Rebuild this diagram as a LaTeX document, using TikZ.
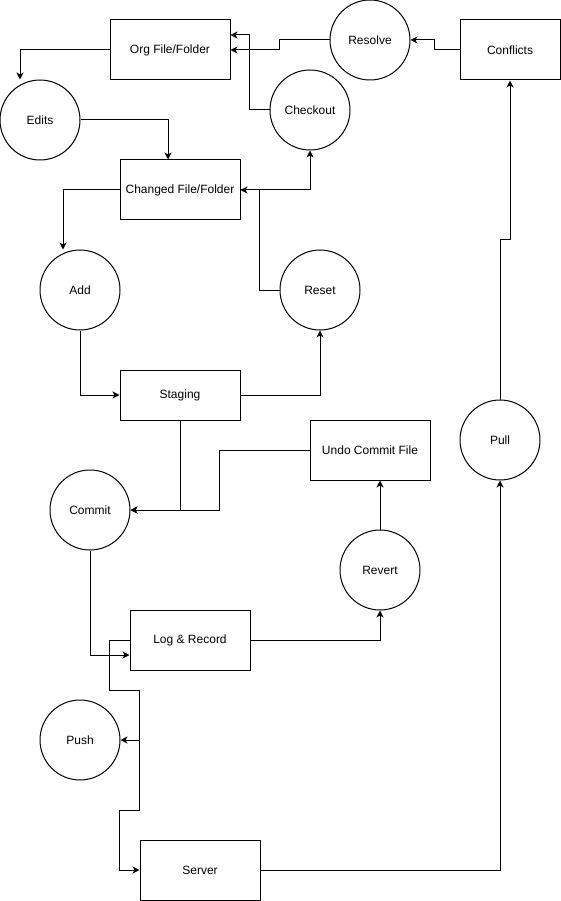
\documentclass[tikz,border=0pt]{standalone}
\usepackage{fontspec}
\setmainfont{Liberation Sans}
\usetikzlibrary{arrows.meta,calc}
\begin{document}
\begin{tikzpicture}[x=1pt,y=-1pt,
  every node/.style={font=\fontsize{12}{14}\selectfont},
  box/.style={draw,line width=1pt,rectangle,minimum width=120pt,minimum height=60pt,inner sep=0pt},
  bubble/.style={draw,line width=1pt,circle,minimum size=80pt,inner sep=0pt},
  flow/.style={line width=1pt,-{Stealth[length=7pt,width=7pt,inset=2pt]}},
  plain/.style={line width=1pt}]
\useasboundingbox (0,0) rectangle (561,901);

% states (boxes)
\node[box] (org) at (170,50) {Org File/Folder};
\node[box] (changed) at (180,190) {Changed File/Folder};
\node[box,minimum width=100pt] (conflicts) at (510,50) {Conflicts};
\node[box,minimum height=50pt] (staging) at (180,395) {Staging};
\node[box] (undo) at (370,450) {Undo Commit File};
\node[box] (log) at (190,640) {Log \& Record};
\node[box] (server) at (200,870) {Server};

% actions (circles)
\node[bubble] (edits) at (40,120) {Edits};
\node[bubble] (resolve) at (370,40) {Resolve};
\node[bubble] (checkout) at (310,110) {Checkout};
\node[bubble] (add) at (80,290) {Add};
\node[bubble] (reset) at (320,290) {Reset};
\node[bubble] (commit) at (90,510) {Commit};
\node[bubble] (revert) at (380,570) {Revert};
\node[bubble] (push) at (80,740) {Push};
\node[bubble] (pull) at (500,440) {Pull};

% working copy
\draw[flow] (org.west) -| ($(edits.north)+(-20,0)$);
\draw[flow] (edits.east) -| ($(changed.north)+(-12,0)$);
\draw[flow] (changed.west) -| ($(add.north)+(-17,0)$);
\draw[flow] (reset.west) -- ++(-20,0) |- (changed.east);
\draw[flow] (changed.east) -| (checkout.south);
\draw[flow] (checkout.west) -- ++(-20,0) |- ($(org.east)+(0,-15)$);
\draw[flow] (resolve.west) -- ++(-50,0) |- (org.east);
\draw[flow] (conflicts.west) -- ++(-25,0) |- (resolve.east);

% staging and commits
\draw[flow] (add.south) |- (staging.west);
\draw[flow] (staging.east) -| (reset.south);
\draw[flow] (staging.south) |- (commit.east);
\draw[flow] (undo.west) -- ++(-90,0) |- (commit.east);
\draw[flow] (revert.north) -- (revert.north |- undo.south);
\draw[flow] (log.east) -| (revert.south);
\draw[flow] (commit.south) |- ($(log.west)+(0,15)$);

% remote
\draw[flow] (log.west) -- ++(-20,0) -- ++(0,50) -- ++(30,0) |- (push.east);
\draw[flow] (log.west) -- ++(-20,0) -- ++(0,50) -- ++(30,0) -- ++(0,120) -- ++(-20,0) |- (server.west);
\draw[flow] (server.east) -| (pull.south);
\draw[flow] (pull.north) -- ++(0,-160) -| (conflicts.south);
\end{tikzpicture}
\end{document}
